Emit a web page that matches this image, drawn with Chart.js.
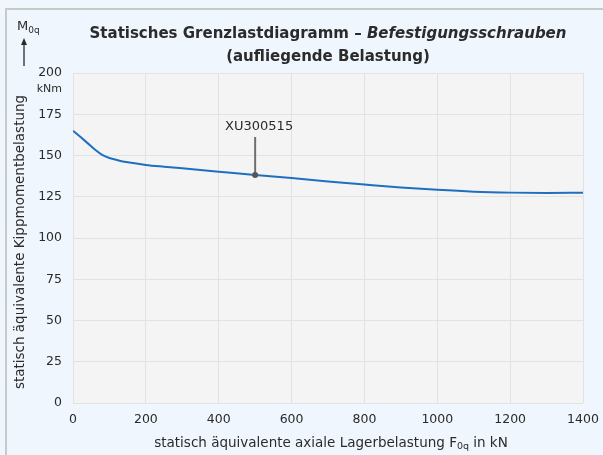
<!DOCTYPE html>
<html>
<head>
<meta charset="utf-8">
<script src="https://cdn.jsdelivr.net/npm/chart.js@4.4.0/dist/chart.umd.min.js"></script>
<style>
  html, body { margin: 0; padding: 0; background: #eff6fd; overflow: hidden; }
  #wrap { position: absolute; left: 0; top: 0; width: 603px; height: 455px; }
</style>
</head>
<body>
<div id="wrap"><canvas id="chart" width="603" height="455"></canvas></div>
<script>
// axial bearing load (kN) vs. tilting moment (kNm)
const loadKN = [0, 20, 40, 60, 80, 100, 125, 150, 200, 250, 300, 400, 500, 600, 700, 800, 900, 1000, 1100, 1200, 1300, 1400];
const momentKNm = [165, 161.3, 157.5, 153.6, 150.4, 148.5, 147, 145.9, 144.3, 143.2, 142.2, 140.2, 138.2, 136.3, 134.3, 132.4, 130.6, 129.2, 128.1, 127.5, 127.3, 127.5];

// marked bearing
const markerLabel = ['XU300515'];
const markerX = [500];
const markerY = [138.2];

const xTicks = [0, 200, 400, 600, 800, 1000, 1200, 1400];
const yTicks = [0, 25, 50, 75, 100, 125, 150, 175, 200];

(function() {
  const FONT = '"DejaVu Sans", Lato, sans-serif';
  const TEXT = '#2b2b2b';
  const SIZE = 13.5;

  const extras = {
    id: 'extras',
    beforeDraw(chart) {
      const { ctx, chartArea: a } = chart;
      ctx.save();
      // page frame, only left and top edges visible
      ctx.strokeStyle = '#c9c9c9';
      ctx.lineWidth = 2;
      ctx.beginPath();
      ctx.moveTo(6, 460);
      ctx.lineTo(6, 9);
      ctx.lineTo(610, 9);
      ctx.stroke();
      ctx.fillStyle = '#f4f4f4';
      ctx.fillRect(a.left, a.top, a.right - a.left, a.bottom - a.top);
      ctx.restore();
    },
    afterDraw(chart) {
      const { ctx, chartArea: a } = chart;
      const xs = chart.scales.x, ys = chart.scales.y;
      const cx = (a.left + a.right) / 2;
      ctx.save();
      ctx.fillStyle = TEXT;
      ctx.textBaseline = 'middle';

      // title, line 1 mixes bold and bold italic
      const t1 = 'Statisches Grenzlastdiagramm – ';
      const t2 = 'Befestigungsschrauben';
      ctx.font = 'bold 15px ' + FONT;
      const w1 = ctx.measureText(t1).width;
      ctx.font = 'italic bold 15px ' + FONT;
      const w2 = ctx.measureText(t2).width;
      let x0 = cx - (w1 + w2) / 2;
      ctx.textAlign = 'left';
      ctx.font = 'bold 15px ' + FONT;
      ctx.fillText(t1, x0, 34);
      ctx.font = 'italic bold 15px ' + FONT;
      ctx.fillText(t2, x0 + w1, 34);
      ctx.font = 'bold 15px ' + FONT;
      ctx.textAlign = 'center';
      ctx.fillText('(aufliegende Belastung)', cx, 57);

      // M0q with arrow
      ctx.textAlign = 'left';
      ctx.font = '13px ' + FONT;
      ctx.fillText('M', 17, 27);
      const mw = ctx.measureText('M').width;
      ctx.font = '9px ' + FONT;
      ctx.fillText('0q', 17 + mw, 31);
      ctx.strokeStyle = TEXT;
      ctx.lineWidth = 1.3;
      ctx.beginPath();
      ctx.moveTo(24, 66);
      ctx.lineTo(24, 42);
      ctx.stroke();
      ctx.beginPath();
      ctx.moveTo(24, 38);
      ctx.lineTo(21, 45);
      ctx.lineTo(27, 45);
      ctx.closePath();
      ctx.fill();

      // unit under the top tick
      ctx.font = '11px ' + FONT;
      ctx.textAlign = 'right';
      ctx.fillText('kNm', 62, 89);

      // y axis title
      ctx.save();
      ctx.translate(20, (a.top + a.bottom) / 2 + 4);
      ctx.rotate(-Math.PI / 2);
      ctx.textAlign = 'center';
      ctx.font = SIZE + 'px ' + FONT;
      ctx.fillText('statisch äquivalente Kippmomentbelastung', 0, 0);
      ctx.restore();

      // x axis title with subscript
      const xa = 'statisch äquivalente axiale Lagerbelastung F';
      const xb = '0q';
      const xc = ' in kN';
      ctx.font = SIZE + 'px ' + FONT;
      const wa = ctx.measureText(xa).width, wc = ctx.measureText(xc).width;
      ctx.font = '9.5px ' + FONT;
      const wb = ctx.measureText(xb).width;
      let tx = cx + 3 - (wa + wb + wc) / 2;
      ctx.textAlign = 'left';
      ctx.font = SIZE + 'px ' + FONT;
      ctx.fillText(xa, tx, 443);
      ctx.font = '9.5px ' + FONT;
      ctx.fillText(xb, tx + wa, 447);
      ctx.font = SIZE + 'px ' + FONT;
      ctx.fillText(xc, tx + wa + wb, 443);

      // marker annotation
      markerLabel.forEach((lab, i) => {
        const px = xs.getPixelForValue(markerX[i]);
        const py = ys.getPixelForValue(markerY[i]);
        ctx.strokeStyle = '#6f6f6f';
        ctx.lineWidth = 2;
        ctx.beginPath();
        ctx.moveTo(px, py);
        ctx.lineTo(px, py - 38);
        ctx.stroke();
        ctx.fillStyle = '#555';
        ctx.beginPath();
        ctx.arc(px, py, 3, 0, Math.PI * 2);
        ctx.fill();
        ctx.fillStyle = TEXT;
        ctx.textAlign = 'center';
        ctx.font = '13px ' + FONT;
        ctx.fillText(lab, px + 4, py - 48);
      });
      ctx.restore();
    }
  };

  new Chart(document.getElementById('chart'), {
    type: 'line',
    data: {
      datasets: [{
        label: 'XU300515',
        data: loadKN.map((x, i) => ({ x: x, y: momentKNm[i] })),
        borderColor: '#1f6fbf',
        borderWidth: 2,
        pointRadius: 0,
        cubicInterpolationMode: 'monotone',
        fill: false
      }]
    },
    options: {
      responsive: false,
      animation: false,
      layout: { padding: { top: 73, right: 20, left: 0, bottom: 0 } },
      plugins: { legend: { display: false }, tooltip: { enabled: false } },
      scales: {
        x: {
          type: 'linear',
          min: xTicks[0],
          max: xTicks[xTicks.length - 1],
          afterBuildTicks: s => { s.ticks = xTicks.map(v => ({ value: v })); },
          afterFit: s => { s.height = 52; s.paddingLeft = 0; s.paddingRight = 0; },
          grid: { color: '#e2e2e2', drawTicks: false },
          border: { display: false },
          ticks: { color: TEXT, font: { family: FONT, size: 12.5 }, padding: 9, callback: v => String(v) }
        },
        y: {
          min: yTicks[0],
          max: yTicks[yTicks.length - 1],
          afterBuildTicks: s => { s.ticks = yTicks.map(v => ({ value: v })); },
          afterFit: s => { s.width = 73; s.paddingTop = 0; s.paddingBottom = 0; },
          grid: { color: '#e2e2e2', drawTicks: false },
          border: { display: false },
          ticks: { color: TEXT, font: { family: FONT, size: 12.5 }, padding: 11, callback: v => String(v) }
        }
      }
    },
    plugins: [extras]
  });
})();
</script>
</body>
</html>
